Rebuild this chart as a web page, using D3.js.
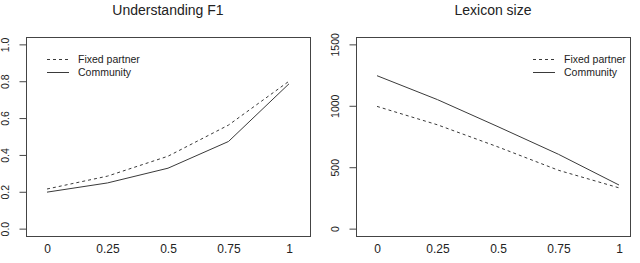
<!DOCTYPE html>
<html>
<head>
<meta charset="utf-8">
<script src="https://cdn.jsdelivr.net/npm/d3@7"></script>
<style>
  body { margin: 0; background: #fff; }
  svg { display: block; font-family: "Liberation Sans", Arial, sans-serif; }
</style>
</head>
<body>
<div id="chart"></div>
<script>
// ---- data ----
const xValues = [0, 0.25, 0.5, 0.75, 1];
const xLabels = ["0", "0.25", "0.5", "0.75", "1"];
const seriesNames = ["Fixed partner", "Community"];

const f1Fixed = [0.215, 0.285, 0.393, 0.562, 0.80];
const f1Community = [0.198, 0.248, 0.328, 0.473, 0.786];
const f1Ticks = [0, 0.2, 0.4, 0.6, 0.8, 1.0];

const lexFixed = [995, 845, 665, 475, 332];
const lexCommunity = [1245, 1050, 830, 605, 355];
const lexTicks = [0, 500, 1000, 1500];

const W = 640, H = 263;
const ink = "#222";
const lineCol = "#3a3a3a";

const svg = d3.select("#chart").append("svg")
  .attr("width", W)
  .attr("height", H);

function panel(opts) {
  const { box, xPad, yDomain, ticks, tickFmt, title, fixed, community, legend } = opts;
  const g = svg.append("g");

  const x = d3.scaleLinear().domain([0, 1]).range([box.left + xPad[0], box.right - xPad[1]]);
  const y = d3.scaleLinear().domain(yDomain).range([box.bottom, box.top]);

  // title
  g.append("text")
    .attr("x", (box.left + box.right) / 2)
    .attr("y", 15)
    .attr("text-anchor", "middle")
    .attr("fill", ink)
    .attr("font-size", "14px")
    .text(title);

  // box
  g.append("rect")
    .attr("x", box.left + 0.5).attr("y", box.top + 0.5)
    .attr("width", box.right - box.left).attr("height", box.bottom - box.top)
    .attr("fill", "none").attr("stroke", "#444").attr("stroke-width", 1);

  // y axis (ticks outside box, labels rotated)
  const yAxis = d3.axisLeft(y).tickValues(ticks).tickFormat(tickFmt).tickSize(7);
  const ya = g.append("g")
    .attr("transform", `translate(${box.left + 0.5},0)`)
    .call(yAxis);
  ya.select(".domain").remove();
  ya.selectAll("line").attr("stroke", "#444");
  ya.selectAll("text")
    .attr("fill", ink)
    .attr("font-size", "10.5px")
    .attr("font-family", "Liberation Sans, Arial, sans-serif")
    .attr("x", null)
    .attr("transform", `translate(${-(box.left - opts.yLabelX)},0) rotate(-90)`)
    .attr("text-anchor", "middle")
    .attr("dy", "0.35em");

  // x labels only (no ticks)
  const xa = g.append("g")
    .attr("transform", `translate(0,${box.bottom})`)
    .call(d3.axisBottom(x).tickValues(xValues).tickFormat((d, i) => xLabels[i]).tickSize(0).tickPadding(8));
  xa.select(".domain").remove();
  xa.selectAll("text")
    .attr("fill", ink)
    .attr("font-size", "12px")
    .attr("font-family", "Liberation Sans, Arial, sans-serif");

  const line = d3.line().x((d, i) => x(xValues[i])).y(d => y(d));

  g.append("path").datum(fixed)
    .attr("d", line).attr("fill", "none")
    .attr("stroke", lineCol).attr("stroke-width", 1)
    .attr("stroke-dasharray", "3,3");
  g.append("path").datum(community)
    .attr("d", line).attr("fill", "none")
    .attr("stroke", lineCol).attr("stroke-width", 1);

  // legend
  seriesNames.forEach((name, i) => {
    const ly = legend.y + i * 13;
    g.append("line")
      .attr("x1", legend.x).attr("x2", legend.x + 22)
      .attr("y1", ly + 0.5).attr("y2", ly + 0.5)
      .attr("stroke", lineCol).attr("stroke-width", 1)
      .attr("stroke-dasharray", i === 0 ? "3,3" : null);
    g.append("text")
      .attr("x", legend.x + 31).attr("y", ly)
      .attr("dy", "0.35em")
      .attr("fill", ink)
      .attr("font-size", "10.5px")
      .text(name);
  });
}

panel({
  box: { left: 26, right: 310, top: 37, bottom: 236 },
  xPad: [21, 21],
  yDomain: [-0.04, 1.04],
  ticks: f1Ticks,
  tickFmt: d3.format(".1f"),
  yLabelX: 5,
  title: "Understanding F1",
  fixed: f1Fixed,
  community: f1Community,
  legend: { x: 47, y: 59 }
});

panel({
  box: { left: 356, right: 630, top: 37, bottom: 236 },
  xPad: [21, 11],
  yDomain: [-60, 1560],
  ticks: lexTicks,
  tickFmt: d3.format("d"),
  yLabelX: 335,
  title: "Lexicon size",
  fixed: lexFixed,
  community: lexCommunity,
  legend: { x: 533, y: 59 }
});
</script>
</body>
</html>
